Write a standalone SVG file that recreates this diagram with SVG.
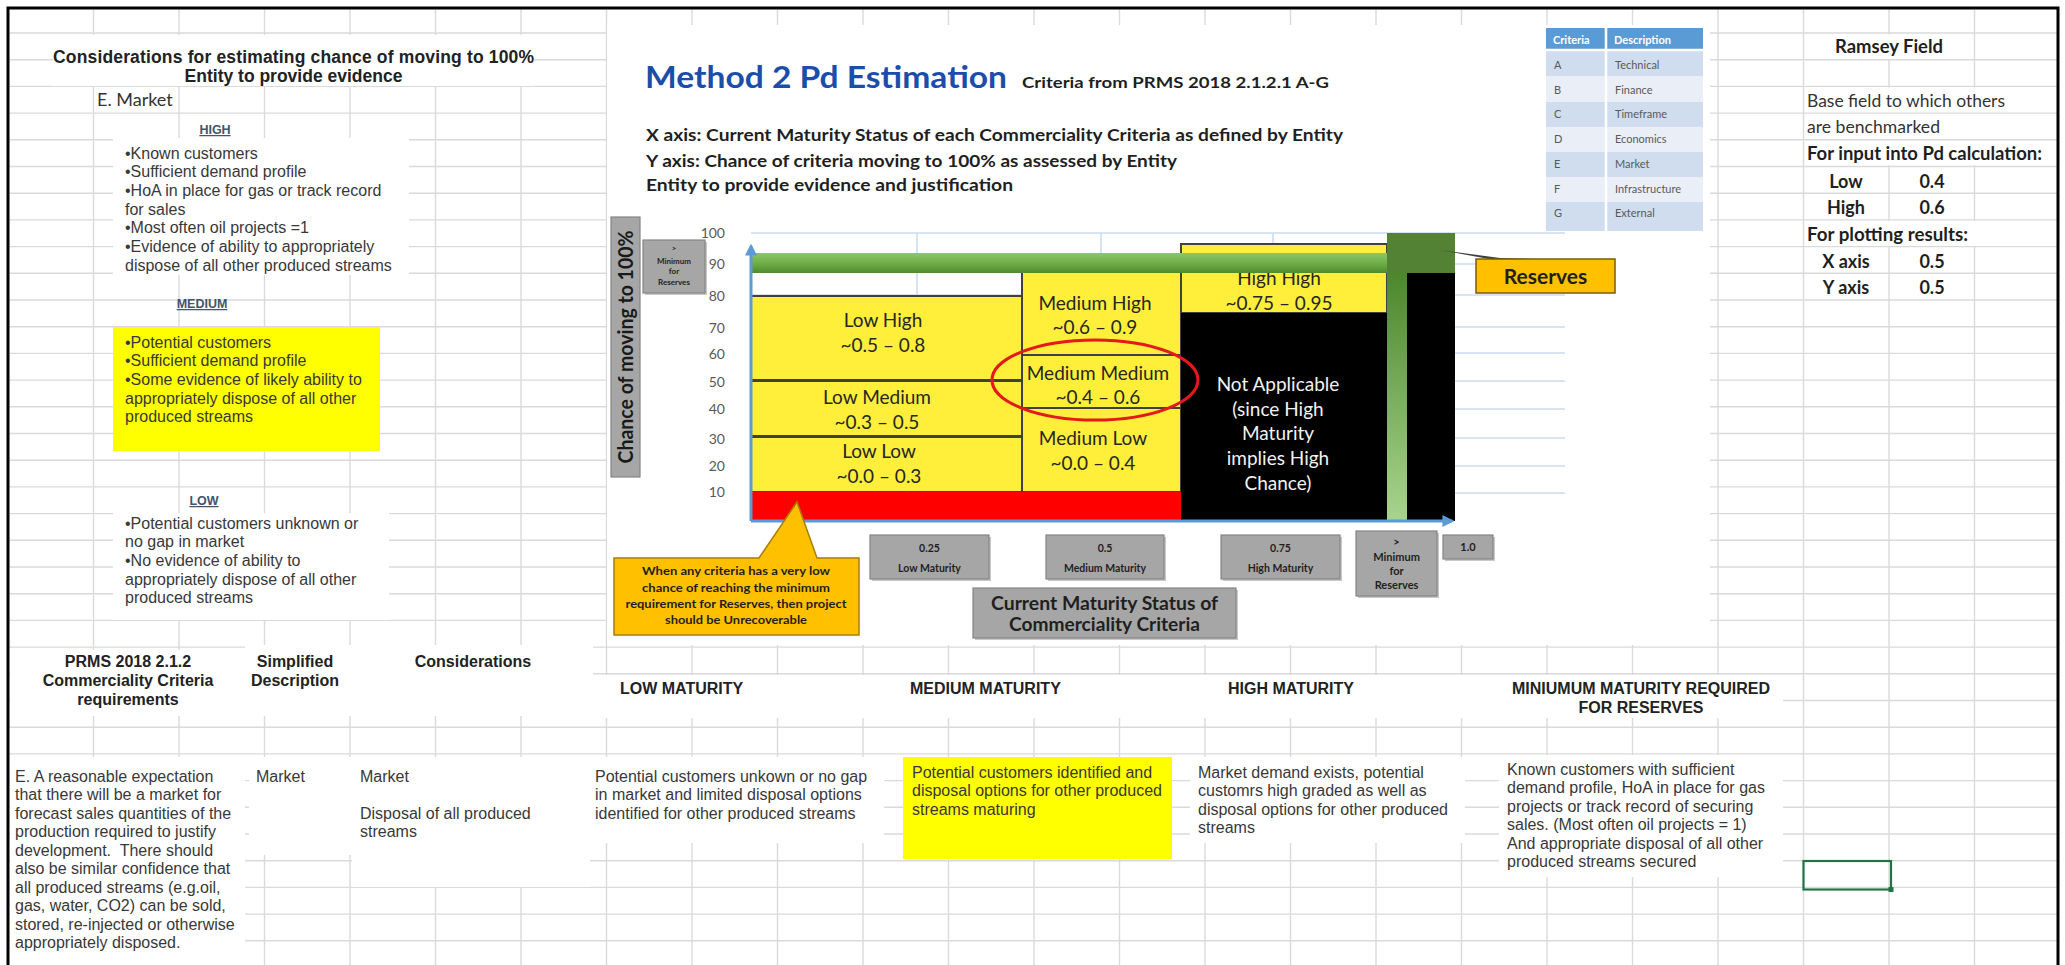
<svg xmlns="http://www.w3.org/2000/svg" width="2065" height="965" viewBox="0 0 2065 965">
<style>
.ar{font-family:"Liberation Sans",Arial,sans-serif}
.cb{font-family:Lato,"Open Sans","Liberation Sans",sans-serif}
.b{font-weight:bold}
.mid{text-anchor:middle}
.end{text-anchor:end}
.body{font-size:16px;fill:#383838}
.hd{font-size:16px;fill:#222}
.grid{stroke:#DADADA;stroke-width:1.4;fill:none}
.cgrid{stroke:#C9DCF0;stroke-width:1.6;fill:none}
.mask{fill:#fff}
.ybox{fill:#FFEF3A;stroke:#404040;stroke-width:2}
.gbox{fill:#A6A6A6;stroke:#858585;stroke-width:1.2}
.shadow{fill:#C8C8C8}
.lbl{font-family:Lato,"Open Sans",sans-serif;font-size:19px;fill:#262626;text-anchor:middle}
.lbl.inv{fill:#f2f2f2}
.tick{font-family:Lato,"Open Sans",sans-serif;font-size:14px;fill:#595959;text-anchor:end}
.gtx{font-family:Lato,"Open Sans",sans-serif;font-weight:bold;fill:#1f1f1f;text-anchor:middle}
.tbl{font-family:Lato,"Open Sans",sans-serif;font-size:11px;fill:#595959}
.tbl.hdr{fill:#fff;font-weight:bold}
.lvl{font-family:"Liberation Sans",Arial,sans-serif;font-size:12.5px;font-weight:bold;fill:#44546A;text-anchor:middle;text-decoration:underline}
.axis{stroke:#5B9BD5;stroke-width:3;fill:none}
</style>
<defs>
<linearGradient id="greenH" x1="0" y1="0" x2="0" y2="1">
<stop offset="0" stop-color="#8DC66A"/>
<stop offset="0.5" stop-color="#6FAF49"/>
<stop offset="1" stop-color="#4F8A2D"/>
</linearGradient>
<linearGradient id="greenV" x1="0" y1="0" x2="0" y2="1">
<stop offset="0" stop-color="#4C872C"/>
<stop offset="1" stop-color="#A8D48F"/>
</linearGradient>
<marker id="arrowBlue" viewBox="0 0 10 10" refX="8" refY="5" markerWidth="4" markerHeight="4" orient="auto">
<path d="M0,0 L10,5 L0,10 Z" fill="#5B9BD5"/>
</marker>
</defs>

<rect width="2065" height="965" fill="#fff"/>

<!-- worksheet cell grid -->
<g id="sheet-grid">
<path class="grid" d="M93.5 8V965M179 8V965M264.5 8V965M350 8V965M435.5 8V965M521 8V965M606.5 8V965M692 8V965M777.5 8V965M863 8V965M948.5 8V965M1034 8V965M1119.5 8V965M1205 8V965M1290.5 8V965M1376 8V965M1461.5 8V965M1547 8V965M1632.5 8V965M1718 8V965M1803.5 8V965M1889 8V965M1974.5 8V965"/>
<!-- text overflowing into neighbouring cells hides the column lines only -->
<rect class="mask" x="1806" y="34.5" width="166" height="24.5"/>
<rect class="mask" x="1806" y="87.5" width="250" height="78"/>
<rect class="mask" x="1806" y="221" width="250" height="25"/>
<path class="grid" d="M8 33H2058M8 59.7H2058M8 86.4H2058M8 113.1H2058M8 139.8H2058M8 166.5H2058M8 193.2H2058M8 219.9H2058M8 246.6H2058M8 273.3H2058M8 300H2058M8 326.7H2058M8 353.4H2058M8 380.1H2058M8 406.8H2058M8 433.5H2058M8 460.2H2058M8 486.9H2058M8 513.6H2058M8 540.3H2058M8 567H2058M8 593.7H2058M8 620.4H2058M8 647.1H2058M8 673.8H2058M8 700.5H2058M8 727.2H2058M8 753.9H2058M8 780.6H2058M8 807.3H2058M8 834H2058M8 860.7H2058M8 887.4H2058M8 914.1H2058M8 940.8H2058"/>
</g>

<!-- white text boxes laid over the cells -->
<g id="cell-boxes">
<rect class="mask" x="53" y="35" width="481" height="51"/>
<rect class="mask" x="113" y="138" width="296" height="137"/>
<rect x="113" y="327" width="267" height="124" fill="#FFFF00"/>
<rect class="mask" x="113" y="513" width="276" height="107"/>
<rect class="mask" x="10" y="650" width="235" height="66"/>
<rect class="mask" x="245" y="645" width="348" height="71"/>
<rect class="mask" x="593" y="675" width="1190" height="43"/>
<rect class="mask" x="10" y="757" width="235" height="208"/>
<rect class="mask" x="249" y="757" width="103" height="98"/>
<rect class="mask" x="352" y="757" width="238" height="130"/>
<rect class="mask" x="585" y="757" width="299" height="86"/>
<rect x="903" y="757" width="269" height="102" fill="#FFFF00"/>
<rect class="mask" x="1190" y="757" width="275" height="86"/>
<rect class="mask" x="1499" y="755" width="284" height="122"/>
<!-- pasted chart picture -->
<rect class="mask" x="607" y="25" width="1103" height="620"/>
</g>

<!-- outer frame -->
<path d="M8 970V8H2058V970" fill="none" stroke="#000" stroke-width="3"/>

<!-- left column: considerations -->
<g id="considerations">
<text class="ar b mid" x="293.5" y="63" font-size="17.5" fill="#222" textLength="481">Considerations for estimating chance of moving to 100%</text>
<text class="ar b mid" x="293.5" y="82" font-size="17.5" fill="#222">Entity to provide evidence</text>
<text class="cb" x="97" y="106" font-size="18" fill="#333">E. Market</text>
</g>
<g id="level-high">
<text class="lvl" x="215" y="134">HIGH</text>
<text class="ar body" x="125" y="158.5">•Known customers</text>
<text class="ar body" x="125" y="177.2">•Sufficient demand profile</text>
<text class="ar body" x="125" y="195.9">•HoA in place for gas or track record</text>
<text class="ar body" x="125" y="214.6">for sales</text>
<text class="ar body" x="125" y="233.3">•Most often oil projects =1</text>
<text class="ar body" x="125" y="252">•Evidence of ability to appropriately</text>
<text class="ar body" x="125" y="270.7">dispose of all other produced streams</text>
</g>
<g id="level-medium">
<text class="lvl" x="202" y="308">MEDIUM</text>
<text class="ar body" x="125" y="347.5">•Potential customers</text>
<text class="ar body" x="125" y="366.2">•Sufficient demand profile</text>
<text class="ar body" x="125" y="384.9">•Some evidence of likely ability to</text>
<text class="ar body" x="125" y="403.6">appropriately dispose of all other</text>
<text class="ar body" x="125" y="422.3">produced streams</text>
</g>
<g id="level-low">
<text class="lvl" x="204" y="505">LOW</text>
<text class="ar body" x="125" y="528.5">•Potential customers unknown or</text>
<text class="ar body" x="125" y="547.2">no gap in market</text>
<text class="ar body" x="125" y="565.9">•No evidence of ability to</text>
<text class="ar body" x="125" y="584.6">appropriately dispose of all other</text>
<text class="ar body" x="125" y="603.3">produced streams</text>
</g>

<!-- chart heading -->
<g id="chart-heading">
<text class="cb b" x="645" y="88" font-size="30" fill="#1B4DAA" textLength="362" lengthAdjust="spacingAndGlyphs">Method 2 Pd Estimation</text>
<text class="cb b" x="1022" y="88" font-size="15" fill="#1f1f1f" textLength="307" lengthAdjust="spacingAndGlyphs">Criteria from PRMS 2018 2.1.2.1 A-G</text>
<text class="cb b" x="646" y="141" font-size="17" fill="#1f1f1f" textLength="697" lengthAdjust="spacingAndGlyphs">X axis: Current Maturity Status of each Commerciality Criteria as defined by Entity</text>
<text class="cb b" x="646" y="167" font-size="17" fill="#1f1f1f" textLength="531" lengthAdjust="spacingAndGlyphs">Y axis: Chance of criteria moving to 100% as assessed by Entity</text>
<text class="cb b" x="646" y="191" font-size="17" fill="#1f1f1f" textLength="367" lengthAdjust="spacingAndGlyphs">Entity to provide evidence and justification</text>
</g>

<!-- criteria legend table -->
<g id="criteria-table">
<rect x="1546" y="28" width="157" height="22" fill="#5B9BD5"/>
<rect x="1546" y="50" width="157" height="26" fill="#D0DDEF"/>
<rect x="1546" y="76" width="157" height="26" fill="#E9EEF7"/>
<rect x="1546" y="102" width="157" height="25" fill="#D0DDEF"/>
<rect x="1546" y="127" width="157" height="25" fill="#E9EEF7"/>
<rect x="1546" y="152" width="157" height="25" fill="#D0DDEF"/>
<rect x="1546" y="177" width="157" height="25" fill="#E9EEF7"/>
<rect x="1546" y="202" width="157" height="29" fill="#D0DDEF"/>
<path d="M1606 28V231M1546 50H1703" stroke="#fff" stroke-width="2.5"/>
<text class="tbl hdr" x="1553" y="44">Criteria</text>
<text class="tbl hdr" x="1614" y="44">Description</text>
<text class="tbl" x="1554" y="69">A</text><text class="tbl" x="1615" y="69">Technical</text>
<text class="tbl" x="1554" y="94">B</text><text class="tbl" x="1615" y="94">Finance</text>
<text class="tbl" x="1554" y="118">C</text><text class="tbl" x="1615" y="118">Timeframe</text>
<text class="tbl" x="1554" y="143">D</text><text class="tbl" x="1615" y="143">Economics</text>
<text class="tbl" x="1554" y="168">E</text><text class="tbl" x="1615" y="168">Market</text>
<text class="tbl" x="1554" y="193">F</text><text class="tbl" x="1615" y="193">Infrastructure</text>
<text class="tbl" x="1554" y="217">G</text><text class="tbl" x="1615" y="217">External</text>
</g>

<!-- chart plot area -->
<g id="chart-gridlines">
<path class="cgrid" d="M751 233H1565M751 264H1565M751 295H1565M751 327H1565M751 353H1565M751 381H1565M751 409H1565M751 438H1565M751 466H1565M751 493H1565M917 233V521M1101 233V521M1273 233V521"/>
</g>
<g id="y-ticks">
<text class="tick" x="725" y="238">100</text>
<text class="tick" x="725" y="269">90</text>
<text class="tick" x="725" y="301">80</text>
<text class="tick" x="725" y="333">70</text>
<text class="tick" x="725" y="359">60</text>
<text class="tick" x="725" y="387">50</text>
<text class="tick" x="725" y="414">40</text>
<text class="tick" x="725" y="444">30</text>
<text class="tick" x="725" y="471">20</text>
<text class="tick" x="725" y="497">10</text>
</g>

<g id="y-axis-title">
<rect class="gbox" x="611" y="217" width="29" height="260"/>
<text class="cb b mid" x="0" y="0" font-size="20" fill="#1a1a1a" transform="translate(633 347) rotate(-90)" textLength="233" lengthAdjust="spacingAndGlyphs">Chance of moving to 100%</text>
</g>
<g id="y-min-reserves">
<rect class="shadow" x="645" y="242" width="62" height="53"/>
<rect class="gbox" x="643" y="240" width="62" height="53"/>
<text class="gtx" x="674" y="251" font-size="8">&gt;</text>
<text class="gtx" x="674" y="264" font-size="8">Minimum</text>
<text class="gtx" x="674" y="274" font-size="8">for</text>
<text class="gtx" x="674" y="285" font-size="8">Reserves</text>
</g>

<g id="zone-low-high"><rect class="ybox" x="751" y="296" width="271" height="84"/>
<text class="lbl" x="883" y="326.5">Low High</text><text class="lbl" x="883" y="351.5">~0.5 – 0.8</text></g>
<g id="zone-low-medium"><rect class="ybox" x="751" y="381" width="271" height="55"/>
<text class="lbl" x="877" y="403.5">Low Medium</text><text class="lbl" x="877" y="428.5">~0.3 – 0.5</text></g>
<g id="zone-low-low"><rect class="ybox" x="751" y="437" width="271" height="55"/>
<text class="lbl" x="879" y="457.5">Low Low</text><text class="lbl" x="879" y="482.5">~0.0 – 0.3</text></g>
<g id="zone-medium-high"><rect class="ybox" x="1022" y="268" width="159" height="87"/>
<text class="lbl" x="1095" y="309.5">Medium High</text><text class="lbl" x="1095" y="333.5">~0.6 – 0.9</text></g>
<g id="zone-medium-medium"><rect class="ybox" x="1022" y="355" width="159" height="53"/>
<text class="lbl" x="1098" y="379.5">Medium Medium</text><text class="lbl" x="1098" y="403.5">~0.4 – 0.6</text></g>
<g id="zone-medium-low"><rect class="ybox" x="1022" y="408" width="159" height="84"/>
<text class="lbl" x="1093" y="444.5">Medium Low</text><text class="lbl" x="1093" y="469.5">~0.0 – 0.4</text></g>
<g id="zone-high-high"><rect class="ybox" x="1181" y="244" width="206" height="69"/>
<text class="lbl" x="1279" y="285">High High</text><text class="lbl" x="1279" y="309.5">~0.75 – 0.95</text></g>
<g id="zone-not-applicable"><rect x="1181" y="313" width="206" height="208" fill="#000"/>
<text class="lbl inv" x="1278" y="390.5">Not Applicable</text>
<text class="lbl inv" x="1278" y="415.5">(since High</text>
<text class="lbl inv" x="1278" y="439.5">Maturity</text>
<text class="lbl inv" x="1278" y="464.5">implies High</text>
<text class="lbl inv" x="1278" y="489.5">Chance)</text></g>
<g id="zone-unrecoverable"><rect x="751" y="492" width="430" height="28" fill="#FF0000"/></g>

<g id="reserves-band">
<rect x="751" y="253" width="636" height="20" fill="url(#greenH)"/>
<rect x="1387" y="273" width="20" height="248" fill="url(#greenV)"/>
<rect x="1407" y="273" width="48" height="248" fill="#000"/>
<rect x="1387" y="233" width="68" height="40" fill="#548235"/>
</g>

<ellipse id="focus-ring" cx="1095" cy="380" rx="103" ry="40" fill="none" stroke="#E3191B" stroke-width="3"/>

<g id="axes">
<path class="axis" d="M751 521V246" marker-end="url(#arrowBlue)"/>
<path class="axis" d="M751 521H1452" marker-end="url(#arrowBlue)"/>
</g>

<!-- x axis category labels -->
<g id="x-low">
<rect class="shadow" x="872" y="537" width="119" height="44"/>
<rect class="gbox" x="870" y="535" width="119" height="44"/>
<text class="gtx" x="929.5" y="552" font-size="10.5">0.25</text>
<text class="gtx" x="929.5" y="572" font-size="10.5">Low Maturity</text>
</g>
<g id="x-medium">
<rect class="shadow" x="1048" y="537" width="118" height="44"/>
<rect class="gbox" x="1046" y="535" width="118" height="44"/>
<text class="gtx" x="1105" y="552" font-size="10.5">0.5</text>
<text class="gtx" x="1105" y="572" font-size="10.5">Medium Maturity</text>
</g>
<g id="x-high">
<rect class="shadow" x="1223" y="537" width="119" height="44"/>
<rect class="gbox" x="1221" y="535" width="119" height="44"/>
<text class="gtx" x="1280.5" y="552" font-size="10.5">0.75</text>
<text class="gtx" x="1280.5" y="572" font-size="10.5">High Maturity</text>
</g>
<g id="x-min-reserves">
<rect class="shadow" x="1358" y="533" width="81" height="65"/>
<rect class="gbox" x="1356" y="531" width="81" height="65"/>
<text class="gtx" x="1396.5" y="546" font-size="11">&gt;</text>
<text class="gtx" x="1396.5" y="561" font-size="11">Minimum</text>
<text class="gtx" x="1396.5" y="575" font-size="11">for</text>
<text class="gtx" x="1396.5" y="589" font-size="11">Reserves</text>
</g>
<g id="x-one">
<rect class="shadow" x="1445" y="537" width="50" height="24"/>
<rect class="gbox" x="1443" y="535" width="50" height="24"/>
<text class="gtx" x="1468" y="551" font-size="11">1.0</text>
</g>
<g id="x-axis-title">
<rect class="shadow" x="975" y="590" width="263" height="50"/>
<rect class="gbox" x="973" y="588" width="263" height="50"/>
<text class="gtx" x="1104.5" y="610" font-size="19" textLength="227" lengthAdjust="spacingAndGlyphs">Current Maturity Status of</text>
<text class="gtx" x="1104.5" y="631" font-size="19" textLength="191" lengthAdjust="spacingAndGlyphs">Commerciality Criteria</text>
</g>

<!-- callouts -->
<g id="callout-unrecoverable">
<path d="M614 558H759L797 502L817 558H859V635H614Z" fill="#FFC000" stroke="#A87E00" stroke-width="1.5"/>
<text class="gtx" x="736" y="575" font-size="11.5" textLength="188" lengthAdjust="spacingAndGlyphs">When any criteria has a very low</text>
<text class="gtx" x="736" y="592" font-size="11.5" textLength="188" lengthAdjust="spacingAndGlyphs">chance of reaching the minimum</text>
<text class="gtx" x="736" y="608" font-size="11.5" textLength="221" lengthAdjust="spacingAndGlyphs">requirement for Reserves, then project</text>
<text class="gtx" x="736" y="624" font-size="11.5" textLength="142" lengthAdjust="spacingAndGlyphs">should be Unrecoverable</text>
</g>
<g id="callout-reserves">
<path d="M1440 250L1500 258L1536 259L1500 261Z" fill="#3f3f3f"/>
<rect x="1476" y="259" width="139" height="34" fill="#FFC000" stroke="#7A5C00" stroke-width="1.5"/>
<text class="gtx" x="1545.5" y="284" font-size="21">Reserves</text>
</g>

<!-- benchmark field -->
<g id="ramsey-field">
<text class="cb b mid" x="1889" y="53" font-size="19" fill="#1f1f1f" textLength="108" lengthAdjust="spacingAndGlyphs">Ramsey Field</text>
<text class="cb" x="1807" y="107" font-size="18" fill="#333" textLength="198" lengthAdjust="spacingAndGlyphs">Base field to which others</text>
<text class="cb" x="1807" y="133" font-size="18" fill="#333" textLength="133" lengthAdjust="spacingAndGlyphs">are benchmarked</text>
<text class="cb b" x="1807" y="160" font-size="18" fill="#1f1f1f" textLength="235" lengthAdjust="spacingAndGlyphs">For input into Pd calculation:</text>
<text class="cb b mid" x="1846" y="188" font-size="18" fill="#1f1f1f">Low</text>
<text class="cb b mid" x="1932" y="188" font-size="18" fill="#1f1f1f">0.4</text>
<text class="cb b mid" x="1846" y="214" font-size="18" fill="#1f1f1f">High</text>
<text class="cb b mid" x="1932" y="214" font-size="18" fill="#1f1f1f">0.6</text>
<text class="cb b" x="1807" y="241" font-size="18" fill="#1f1f1f" textLength="161" lengthAdjust="spacingAndGlyphs">For plotting results:</text>
<text class="cb b mid" x="1846" y="268" font-size="18" fill="#1f1f1f">X axis</text>
<text class="cb b mid" x="1932" y="268" font-size="18" fill="#1f1f1f">0.5</text>
<text class="cb b mid" x="1846" y="294" font-size="18" fill="#1f1f1f">Y axis</text>
<text class="cb b mid" x="1932" y="294" font-size="18" fill="#1f1f1f">0.5</text>
</g>

<!-- lower table: criteria wording and maturity levels -->
<g id="table-headers">
<text class="ar b hd mid" x="128" y="667">PRMS 2018 2.1.2</text>
<text class="ar b hd mid" x="128" y="686">Commerciality Criteria</text>
<text class="ar b hd mid" x="128" y="705">requirements</text>
<text class="ar b hd mid" x="295" y="667">Simplified</text>
<text class="ar b hd mid" x="295" y="686">Description</text>
<text class="ar b hd mid" x="473" y="667">Considerations</text>
<text class="ar b hd" x="620" y="693.5">LOW MATURITY</text>
<text class="ar b hd" x="910" y="693.5">MEDIUM MATURITY</text>
<text class="ar b hd" x="1228" y="693.5">HIGH MATURITY</text>
<text class="ar b hd mid" x="1641" y="693.5">MINIUMUM MATURITY REQUIRED</text>
<text class="ar b hd mid" x="1641" y="712.5">FOR RESERVES</text>
</g>
<g id="criteria-e">
<text class="ar body" x="15" y="781.5">E. A reasonable expectation</text>
<text class="ar body" x="15" y="800">that there will be a market for</text>
<text class="ar body" x="15" y="818.5">forecast sales quantities of the</text>
<text class="ar body" x="15" y="837">production required to justify</text>
<text class="ar body" x="15" y="855.5" style="white-space:pre">development.  There should</text>
<text class="ar body" x="15" y="874">also be similar confidence that</text>
<text class="ar body" x="15" y="892.5">all produced streams (e.g.oil,</text>
<text class="ar body" x="15" y="911">gas, water, CO2) can be sold,</text>
<text class="ar body" x="15" y="929.5">stored, re-injected or otherwise</text>
<text class="ar body" x="15" y="948">appropriately disposed.</text>
</g>
<g id="simplified-e">
<text class="ar body" x="256" y="781.5">Market</text>
</g>
<g id="considerations-e">
<text class="ar body" x="360" y="781.5">Market</text>
<text class="ar body" x="360" y="818.5">Disposal of all produced</text>
<text class="ar body" x="360" y="837">streams</text>
</g>
<g id="maturity-low">
<text class="ar body" x="595" y="781.5">Potential customers unkown or no gap</text>
<text class="ar body" x="595" y="800">in market and limited disposal options</text>
<text class="ar body" x="595" y="818.5">identified for other produced streams</text>
</g>
<g id="maturity-medium">
<text class="ar body" x="912" y="777.5">Potential customers identified and</text>
<text class="ar body" x="912" y="796">disposal options for other produced</text>
<text class="ar body" x="912" y="814.5">streams maturing</text>
</g>
<g id="maturity-high">
<text class="ar body" x="1198" y="777.5">Market demand exists, potential</text>
<text class="ar body" x="1198" y="796">customrs high graded as well as</text>
<text class="ar body" x="1198" y="814.5">disposal options for other produced</text>
<text class="ar body" x="1198" y="833">streams</text>
</g>
<g id="maturity-reserves">
<text class="ar body" x="1507" y="774.5">Known customers with sufficient</text>
<text class="ar body" x="1507" y="793">demand profile, HoA in place for gas</text>
<text class="ar body" x="1507" y="811.5">projects or track record of securing</text>
<text class="ar body" x="1507" y="830">sales. (Most often oil projects = 1)</text>
<text class="ar body" x="1507" y="848.5">And appropriate disposal of all other</text>
<text class="ar body" x="1507" y="867">produced streams secured</text>
</g>

<!-- active cell selection -->
<g id="active-cell">
<rect x="1803.5" y="861" width="87.5" height="28.5" fill="none" stroke="#217346" stroke-width="2.2"/>
<rect x="1888.5" y="887" width="5" height="5" fill="#217346"/>
</g>
</svg>
